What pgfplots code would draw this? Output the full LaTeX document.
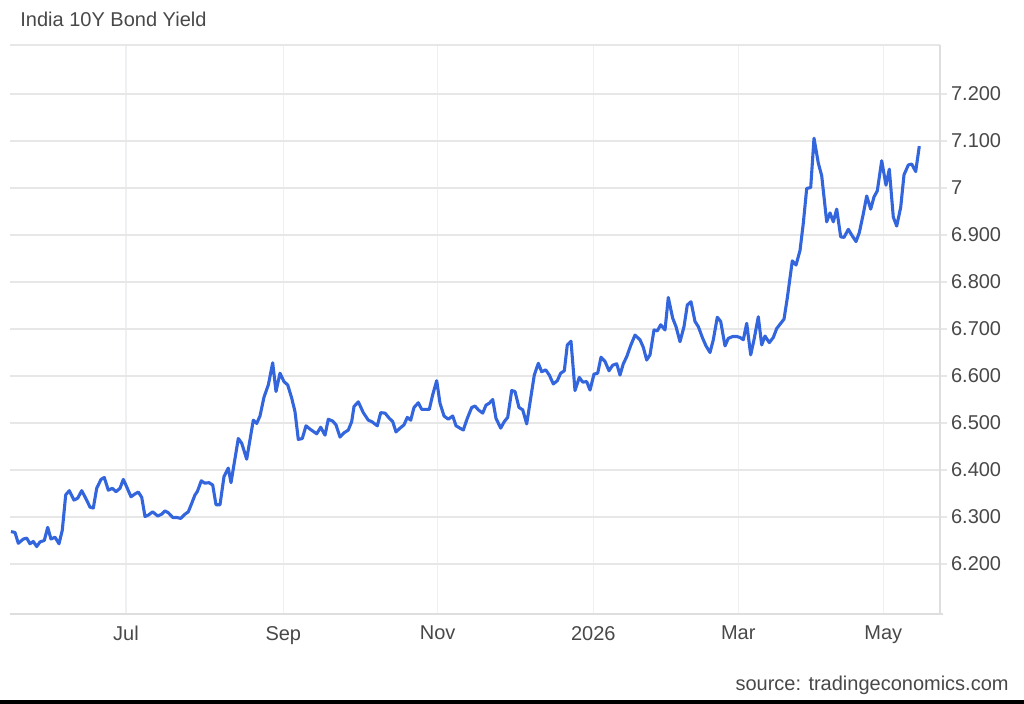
\documentclass[border=0pt]{standalone}
\usepackage{fontspec}
\setmainfont{Liberation Sans}
\usepackage{pgfplots}
\pgfplotsset{compat=1.18}
\definecolor{lineblue}{RGB}{51,102,221}
\definecolor{gridgray}{RGB}{231,231,231}
\definecolor{vgridgray}{RGB}{238,240,242}
\definecolor{framegray}{RGB}{222,222,222}
\definecolor{textgray}{RGB}{72,72,72}

% x is the horizontal position of the reading (trading days, as placed on the chart)
\begin{document}
\begin{tikzpicture}[x=1pt,y=1pt]
\path[use as bounding box] (0,0) rectangle (512,352);
\fill[black] (0,0) rectangle (512,2);
\node[anchor=west, text=textgray, inner sep=0pt, font=\fontsize{10}{12}\selectfont] at (10,342.5) {India 10Y Bond Yield};
\node[anchor=east, text=textgray, inner sep=0pt, font=\fontsize{10}{12}\selectfont] at (504.5,9.5) {source: tradingeconomics.com};
\begin{axis}[
    at={(5pt,45pt)}, anchor=south west,
    scale only axis, width=465pt, height=284.5pt,
    xmin=10, xmax=940,
    ymin=6.0936, ymax=7.3043,
    axis line style={draw=none},
    clip=false,
    xtick={126,283.3,437.7,593.3,738.3,883.3},
    xticklabels={Jul,Sep,Nov,2026,Mar,May},
    ytick={6.2,6.3,6.4,6.5,6.6,6.7,6.8,6.9,7.0,7.1,7.2},
    yticklabels={6.200,6.300,6.400,6.500,6.600,6.700,6.800,6.900,7,7.100,7.200},
    yticklabel pos=right,
    ytick pos=right,
    tick align=outside,
    major tick length=3.5pt,
    xtick style={draw=none},
    ytick style={gridgray, line width=0.6pt},
    xmajorgrids, ymajorgrids,
    x grid style={vgridgray, line width=0.6pt},
    y grid style={gridgray, line width=0.6pt},
    ticklabel style={font=\fontsize{10}{12}\selectfont, text=textgray},
    xticklabel style={yshift=1pt},
    yticklabel style={xshift=-1.5pt},
    /pgf/number format/assume math mode=true,
]
\draw[gridgray, line width=0.6pt] (rel axis cs:0,1) -- (rel axis cs:1,1);
\draw[framegray, line width=0.7pt] (rel axis cs:0,0) -- ([xshift=1.5pt]rel axis cs:1,0);
\draw[framegray, line width=0.7pt] (rel axis cs:1,0) -- (rel axis cs:1,1);
\addplot[lineblue, line width=1.55pt, line join=round, mark=none] coordinates {
(11,6.269) (15,6.267) (18.3,6.244) (23.3,6.253) (26.7,6.255) (30,6.243)
(33.3,6.248) (36.7,6.237) (40,6.247) (44.3,6.250) (47.7,6.278) (51,6.253)
(55,6.257) (59,6.243) (62.3,6.272) (65.7,6.347) (69.3,6.356) (74,6.336)
(77.7,6.340) (81.7,6.356) (85.7,6.340) (90,6.321) (93.3,6.319) (96.7,6.361)
(101,6.380) (104.3,6.384) (108.3,6.357) (112.3,6.361) (116,6.354) (120,6.361)
(123.3,6.380) (126.7,6.364) (131,6.343) (135,6.349) (138.3,6.353) (141.7,6.342)
(145,6.301) (148.3,6.304) (152.7,6.311) (157.7,6.302) (161.7,6.306) (165,6.313)
(168.3,6.309) (172.7,6.299) (176.7,6.299) (180.7,6.297) (185,6.306) (188.3,6.311)
(191.7,6.329) (195,6.347) (197.3,6.354) (201.3,6.377) (204.7,6.372) (209,6.373)
(212.7,6.368) (216,6.326) (220,6.326) (224,6.386) (228.3,6.404) (231,6.373)
(238.3,6.467) (241.7,6.457) (246.7,6.423) (253.3,6.506) (256.7,6.499) (260,6.515)
(264,6.555) (268.3,6.581) (272.7,6.628) (276,6.567) (280,6.606) (284,6.588)
(287.7,6.581) (291.7,6.553) (295,6.524) (298.3,6.465) (302.3,6.467) (306,6.494)
(310,6.487) (316.7,6.477) (320.7,6.491) (325,6.474) (328.3,6.508) (332.7,6.504)
(336,6.496) (340,6.470) (344,6.479) (348.3,6.485) (351.7,6.503) (354,6.535)
(358.3,6.545) (363.3,6.522) (368.3,6.506) (371.7,6.503) (377.3,6.494) (380.7,6.522)
(385,6.521) (389.3,6.510) (392.7,6.503) (396,6.481) (400,6.489) (404,6.496)
(407.3,6.512) (410.7,6.506) (414,6.533) (418.3,6.543) (421.7,6.529) (426,6.529)
(429.3,6.529) (432.7,6.560) (436.7,6.590) (440,6.542) (444,6.515) (448.3,6.508)
(452.7,6.515) (456,6.494) (460,6.489) (463.3,6.485) (467.3,6.510) (471.7,6.533)
(475,6.536) (478.3,6.528) (482.7,6.521) (486,6.538) (489.3,6.542) (492.7,6.550)
(496,6.510) (500.7,6.489) (504.3,6.503) (507.7,6.512) (511.7,6.569) (515,6.567)
(519,6.533) (522.7,6.528) (526.7,6.498) (530.7,6.553) (534.3,6.602) (538.3,6.627)
(541.7,6.609) (545.7,6.613) (549.3,6.602) (553.3,6.583) (557.3,6.590) (560.7,6.606)
(564.3,6.611) (567.3,6.666) (571,6.674) (575,6.569) (579.3,6.597) (582.7,6.587)
(586.7,6.588) (590,6.570) (594,6.604) (597.7,6.606) (601,6.640) (605,6.631)
(609,6.611) (612.7,6.623) (616.7,6.626) (620,6.602) (623.3,6.626) (626.7,6.641)
(630.7,6.665) (635,6.687) (640,6.677) (643.3,6.661) (646.7,6.634) (650,6.645)
(654,6.698) (657.3,6.696) (660.7,6.709) (665,6.698) (668.3,6.767) (672.7,6.723)
(676,6.705) (680,6.673) (684,6.705) (687.3,6.751) (691,6.758) (695,6.716)
(698.3,6.705) (702.7,6.680) (706,6.664) (710,6.650) (713.3,6.677) (717.3,6.725)
(720.7,6.716) (725,6.664) (728.3,6.680) (732.7,6.684) (736.7,6.684) (740,6.682)
(743.3,6.677) (746.7,6.712) (750.7,6.645) (754,6.677) (758.3,6.726) (761.7,6.666)
(765,6.685) (769.3,6.671) (773.3,6.682) (776.7,6.701) (780.7,6.712) (784,6.721)
(787.3,6.766) (792.3,6.845) (796,6.836) (800,6.867) (803.3,6.925) (806.7,6.999)
(810.7,7.001) (814,7.106) (818.3,7.053) (821.7,7.026) (826.7,6.928) (830,6.947)
(833.3,6.928) (836.7,6.955) (840.7,6.896) (844,6.895) (848.3,6.912) (851.7,6.900)
(856,6.886) (859.3,6.905) (863.3,6.945) (866.7,6.983) (870.7,6.955) (874,6.981)
(877.3,6.994) (881.7,7.058) (886,7.006) (889.3,7.040) (893.3,6.938) (896.7,6.919)
(900.7,6.959) (904,7.028) (908.3,7.049) (911.7,7.051) (915.7,7.035) (919.3,7.089)
};
\end{axis}
\end{tikzpicture}
\end{document}
